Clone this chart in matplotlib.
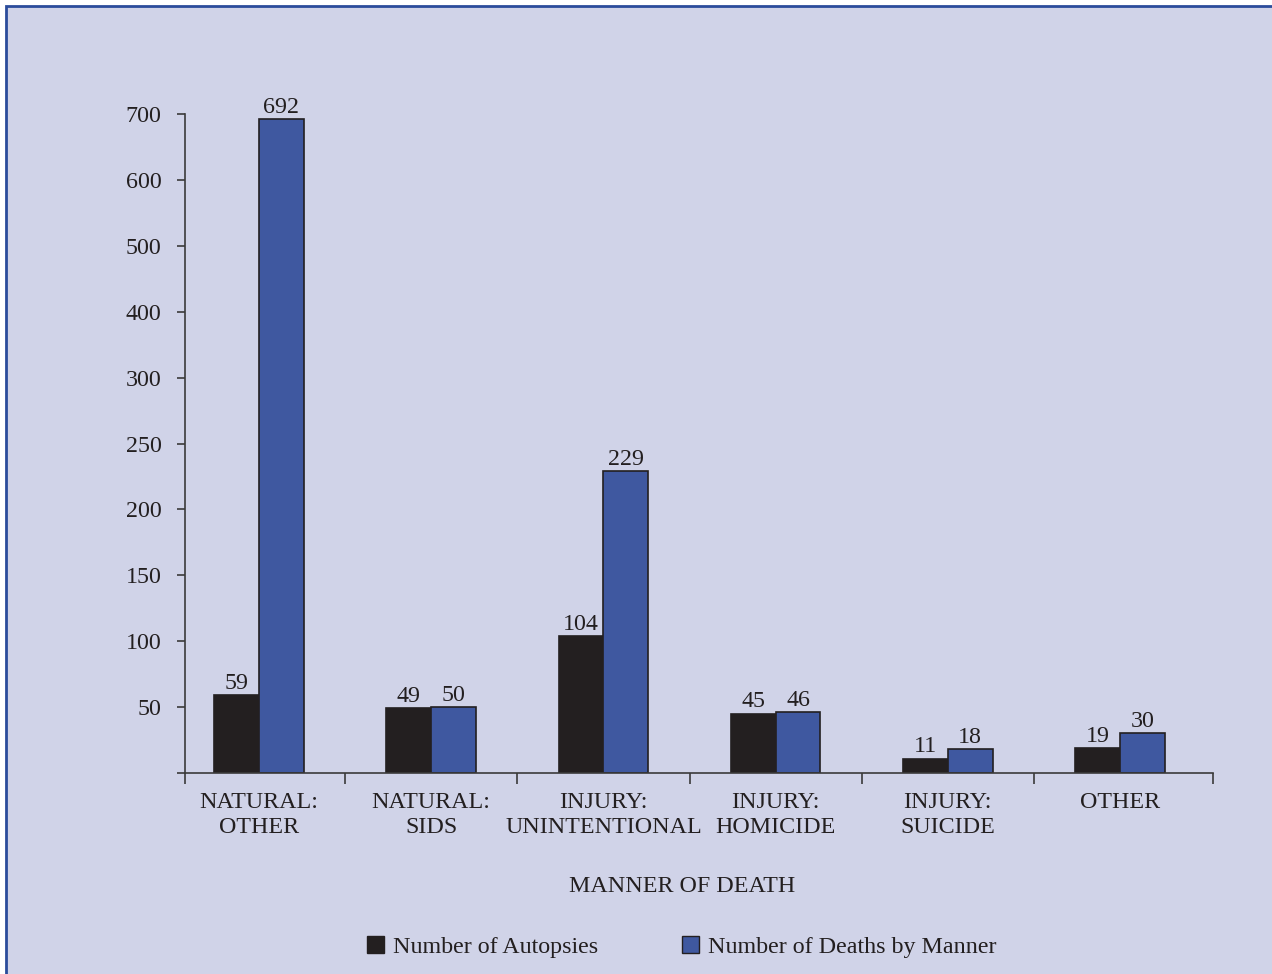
import numpy as np
import matplotlib.pyplot as plt
from matplotlib.patches import Rectangle, Patch

categories = ["NATURAL:\nOTHER", "NATURAL:\nSIDS", "INJURY:\nUNINTENTIONAL",
              "INJURY:\nHOMICIDE", "INJURY:\nSUICIDE", "OTHER"]
autopsies = [59, 49, 104, 45, 11, 19]
deaths = [692, 50, 229, 46, 18, 30]
y_ticks = [0, 50, 100, 150, 200, 250, 300, 400, 500, 600, 700]

bg = '#d0d3e8'
black = '#231f20'
blue = '#3f58a0'
axis_col = '#3a3a3a'

plt.rcParams['font.family'] = ['Liberation Serif', 'DejaVu Serif']
plt.rcParams['font.size'] = 17.3


# the original axis is evenly spaced per tick: 50 steps up to 300, then 100 steps
def fwd(v):
    v = np.asarray(v, dtype=float)
    return np.where(v <= 300, v / 50.0, 6 + (v - 300) / 100.0)


def inv(u):
    u = np.asarray(u, dtype=float)
    return np.where(u <= 6, u * 50.0, 300 + (u - 6) * 100.0)


fig = plt.figure(figsize=(12.72, 9.74), dpi=100)
fig.patch.set_facecolor('white')
fig.patches.append(Rectangle((6 / 1272, -0.1), 1.2, 968 / 974 + 0.1,
                             transform=fig.transFigure, facecolor=bg,
                             edgecolor='#2b4c9b', linewidth=2, zorder=-10))

ax = fig.add_axes([185 / 1272, 201 / 974, (1213 - 185) / 1272, (773 - 114) / 974])
ax.set_facecolor('none')
ax.set_yscale('function', functions=(fwd, inv))

x = np.arange(len(categories))
w = 0.26
b1 = ax.bar(x - w / 2, autopsies, w, color=black, edgecolor=black, linewidth=1.2)
b2 = ax.bar(x + w / 2, deaths, w, color=blue, edgecolor=black, linewidth=1.2)

for bars, vals in ((b1, autopsies), (b2, deaths)):
    for r, v in zip(bars, vals):
        ax.annotate(str(v), (r.get_x() + r.get_width() / 2, v),
                    xytext=(0, 1), textcoords='offset points',
                    ha='center', va='bottom', color=black)

ax.set_ylim(0, 700)
ax.set_yticks(y_ticks)
ax.set_yticklabels([''] + [str(t) for t in y_ticks[1:]])
ax.set_xlim(-0.43, 5.54)
ax.set_xticks([-0.43, 0.5, 1.5, 2.5, 3.5, 4.5, 5.54])
ax.set_xticklabels([])
ax.set_xticks(x, minor=True)
ax.set_xticklabels(categories, minor=True, linespacing=1.25)
ax.tick_params(axis='x', which='minor', length=0, pad=14, colors=black)
ax.tick_params(axis='x', which='major', length=8, color=axis_col, width=1.2)
ax.tick_params(axis='y', length=6, color=axis_col, width=1.2, pad=11, labelcolor=black)

for s in ['top', 'right']:
    ax.spines[s].set_visible(False)
for s in ['left', 'bottom']:
    ax.spines[s].set_color(axis_col)
    ax.spines[s].set_linewidth(1.2)

fig.text(682 / 1272, 1 - 887 / 974, "MANNER OF DEATH", ha='center', va='center', color=black)

handles = [Patch(facecolor=black, edgecolor=black, label='Number of Autopsies'),
           Patch(facecolor=blue, edgecolor=black, label='Number of Deaths by Manner')]
fig.legend(handles=handles, loc='center', bbox_to_anchor=(682 / 1272, 27 / 974), ncol=2,
           frameon=False, handlelength=0.68, handleheight=0.68, handletextpad=0.4,
           columnspacing=3.5, labelcolor=black)

fig.savefig('out.png', dpi=100, facecolor=fig.get_facecolor())
